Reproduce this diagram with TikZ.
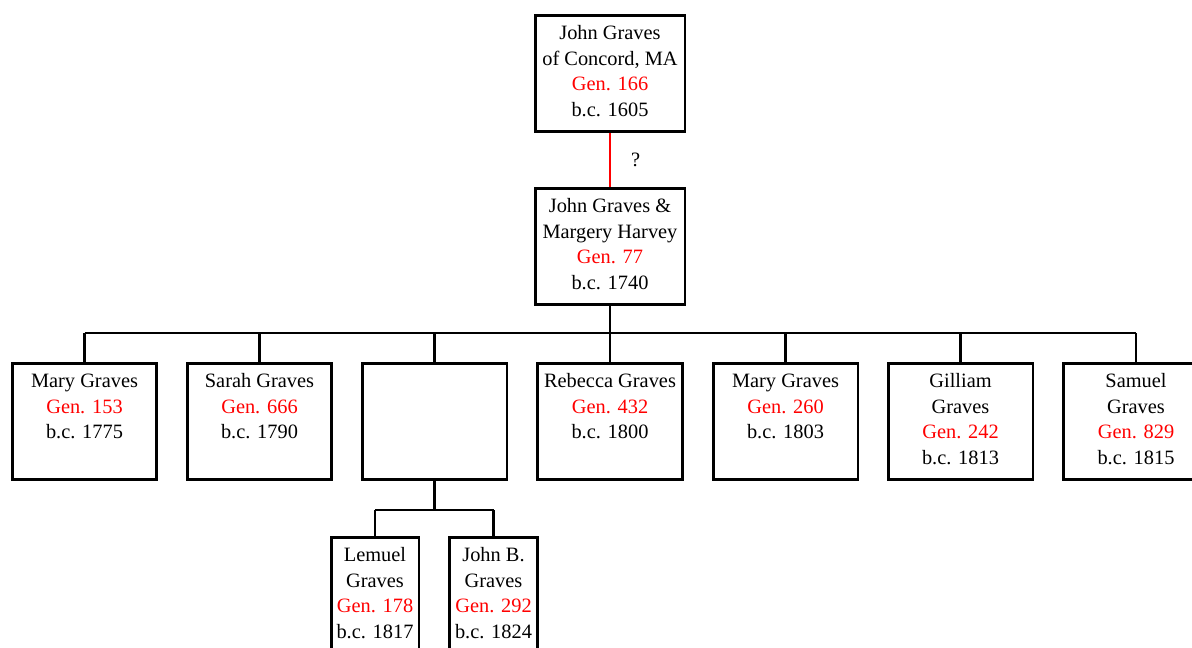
\documentclass[tikz,border=0pt]{standalone}
\usepackage{fontspec}
\setmainfont{Liberation Serif}
\usetikzlibrary{calc}

\tikzset{
	person/.style = {draw, line width = 1.7pt, inner sep = 0pt, anchor = north, font = \fontsize{11.6pt}{14.5pt}\selectfont},
	link/.style = {line width = 1.4pt},
}
\newcommand{\gen}[1]{\textcolor{red}{Gen. #1}}
\newcommand{\card}[2]{\parbox[t][2.32cm][t]{#1}{\centering\rule{0pt}{0.49cm}#2}}

\begin{document}
\begin{tikzpicture}[x = 0.02cm, y = -0.02cm]
		\useasboundingbox (0,0) rectangle (1192,648);
		
		% ancestors
		\node [person] (concord) at (610,14) {\card{3cm}{John Graves\\of Concord, MA\\\gen{166}\\b.c. 1605}};
		\node [person] (parents) at (610,187) {\card{3cm}{John Graves \&\\Margery Harvey\\\gen{77}\\b.c. 1740}};
		\draw [link, red] (concord.south) -- (parents.north) node [midway, right = 8pt, black, font = \fontsize{11.6pt}{14.5pt}\selectfont] {?};
		
		% children
		\node [person] (mary a) at (84.5,362) {\card{2.9cm}{Mary Graves\\\gen{153}\\b.c. 1775}};
		\node [person] (sarah) at (259.5,362) {\card{2.9cm}{Sarah Graves\\\gen{666}\\b.c. 1790}};
		\node [person] (unknown) at (434.5,362) {\card{2.9cm}{}};
		\node [person] (rebecca) at (610,362) {\card{2.9cm}{Rebecca Graves\\\gen{432}\\b.c. 1800}};
		\node [person] (mary b) at (785.5,362) {\card{2.9cm}{Mary Graves\\\gen{260}\\b.c. 1803}};
		\node [person] (gilliam) at (960.5,362) {\card{2.9cm}{Gilliam\\Graves\\\gen{242}\\b.c. 1813}};
		\node [person] (samuel) at (1136,362) {\card{2.9cm}{Samuel\\Graves\\\gen{829}\\b.c. 1815}};
		
		\coordinate (bar) at (610,333);
		\draw [link] (parents.south) -- (bar);
		\draw [link] (bar -| mary a.north) -- (bar -| samuel.north);
		\foreach \child in {mary a, sarah, unknown, rebecca, mary b, gilliam, samuel}
			\draw [link] (bar -| \child.north) -- (\child.north);
		
		% grandchildren
		\node [person] (lemuel) at (375,536) {\card{1.76cm}{Lemuel\\Graves\\\gen{178}\\b.c. 1817}};
		\node [person] (john b) at (493.5,536) {\card{1.76cm}{John B.\\Graves\\\gen{292}\\b.c. 1824}};
		
		\coordinate (lower bar) at ($ (unknown.south) + (0,29) $);
		\draw [link] (unknown.south) -- (lower bar);
		\draw [link] (lower bar -| lemuel.north) -- (lower bar -| john b.north);
		\draw [link] (lower bar -| lemuel.north) -- (lemuel.north);
		\draw [link] (lower bar -| john b.north) -- (john b.north);
\end{tikzpicture}
\end{document}
